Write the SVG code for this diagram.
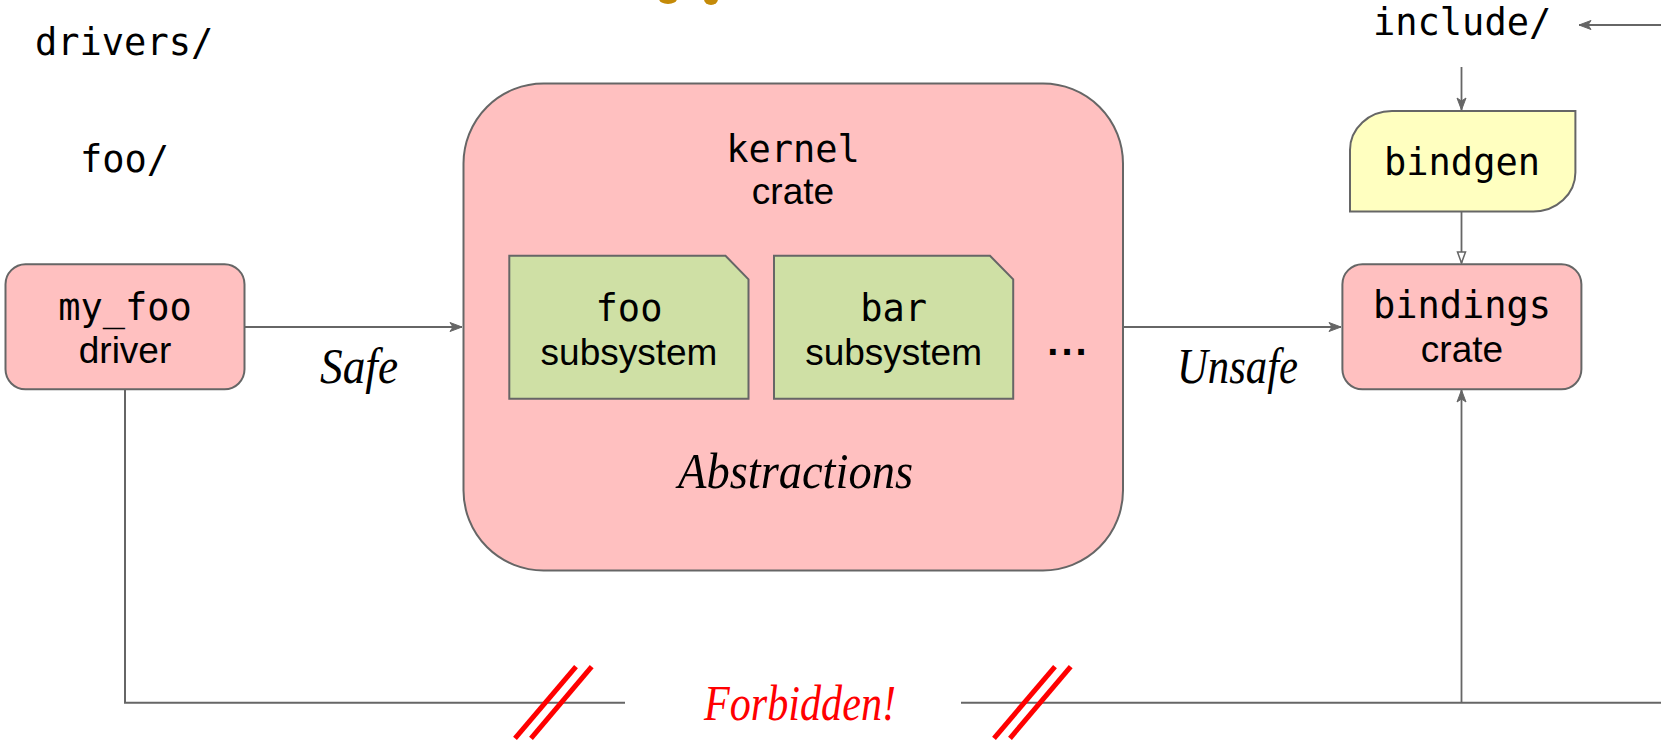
<svg xmlns="http://www.w3.org/2000/svg" width="1661" height="742" viewBox="0 0 1661 742">
<style>
.mono{font-family:"DejaVu Sans Mono","Liberation Mono",monospace;font-size:37px;fill:#000}
.sans{font-family:"Liberation Sans",Arial,sans-serif;font-size:37px;fill:#000}
.hand{font-family:"Liberation Serif",serif;font-style:italic;font-size:50px;fill:#000}
.pink{fill:#ffc0c0;stroke:#666;stroke-width:2}
.green{fill:#cfe0a5;stroke:#666;stroke-width:2}
.yellow{fill:#ffffc0;stroke:#666;stroke-width:2}
.conn{fill:none;stroke:#666;stroke-width:1.8}
.slash{stroke:#ff0000;stroke-width:5;fill:none}
</style>
<defs>
<marker id="arr" viewBox="-13 -6 14 12" refX="0" refY="0" markerWidth="14" markerHeight="12" orient="auto" markerUnits="userSpaceOnUse">
<path d="M-12,-4.5 L0,0 L-12,4.5 L-9,0 Z" fill="#666" stroke="#666" stroke-width="1"/>
</marker>
<marker id="tri" viewBox="-13 -6 14 12" refX="0" refY="0" markerWidth="14" markerHeight="12" orient="auto" markerUnits="userSpaceOnUse">
<path d="M-11,-4 L0,0 L-11,4 Z" fill="#fff" stroke="#666" stroke-width="1.5"/>
</marker>
</defs>
<rect width="1661" height="742" fill="#fff"/>

<g id="tux-feet">
<ellipse cx="668" cy="-1" rx="9" ry="5" fill="#c48a08"/>
<ellipse cx="711" cy="-1" rx="7" ry="6" fill="#c48a08"/>
</g>

<g id="connectors">
<line class="conn" x1="245" y1="327" x2="462" y2="327" marker-end="url(#arr)"/>
<line class="conn" x1="1123" y1="327" x2="1341" y2="327" marker-end="url(#arr)"/>
<line class="conn" x1="1461.5" y1="67" x2="1461.5" y2="110" marker-end="url(#arr)"/>
<line class="conn" x1="1461.5" y1="212" x2="1461.5" y2="263" marker-end="url(#tri)"/>
<line class="conn" x1="1661" y1="25" x2="1579" y2="25" marker-end="url(#arr)"/>
<polyline class="conn" style="stroke-width:2" points="125,389 125,702.7 625,702.7"/>
<line class="conn" style="stroke-width:2" x1="961" y1="702.7" x2="1661" y2="702.7"/>
<line class="conn" x1="1461.5" y1="702.7" x2="1461.5" y2="390" marker-end="url(#arr)"/>
<line class="slash" x1="576" y1="666.7" x2="515" y2="738.3"/>
<line class="slash" x1="591.7" y1="666.7" x2="531" y2="738.3"/>
<line class="slash" x1="1055" y1="666.7" x2="994" y2="738.3"/>
<line class="slash" x1="1070.7" y1="666.7" x2="1010" y2="738.3"/>
<text class="hand" x="320" y="383" textLength="78" lengthAdjust="spacingAndGlyphs">Safe</text>
<text class="hand" x="1177" y="383" textLength="121" lengthAdjust="spacingAndGlyphs">Unsafe</text>
<text class="hand" x="704" y="720" textLength="192" lengthAdjust="spacingAndGlyphs" style="fill:#ff0000">Forbidden!</text>
</g>

<g id="drivers-label">
<text class="mono" x="35" y="55">drivers/</text>
</g>
<g id="foo-label">
<text class="mono" x="80" y="171.5">foo/</text>
</g>
<g id="include-label">
<text class="mono" x="1373" y="35">include/</text>
</g>

<g id="my_foo">
<rect class="pink" x="5.5" y="264.3" width="239" height="125" rx="20" ry="20"/>
<text class="mono" x="125" y="320" text-anchor="middle">my_foo</text>
<text class="sans" x="125" y="362.5" text-anchor="middle">driver</text>
</g>

<g id="kernel">
<rect class="pink" x="463.5" y="83.5" width="659.5" height="487" rx="80" ry="80"/>
<text class="mono" x="793" y="162" text-anchor="middle">kernel</text>
<text class="sans" x="793" y="204" text-anchor="middle">crate</text>
<text class="hand" x="678" y="488" textLength="235" lengthAdjust="spacingAndGlyphs">Abstractions</text>
<text class="sans" x="1068.5" y="355" text-anchor="middle" style="font-weight:bold;font-size:40px;letter-spacing:3px">...</text>
</g>

<g id="foo-subsystem">
<path class="green" d="M509.3,255.7 H725.5 L748.5,279.3 V398.7 H509.3 Z"/>
<text class="mono" x="629" y="321" text-anchor="middle">foo</text>
<text class="sans" x="629" y="365" text-anchor="middle">subsystem</text>
</g>

<g id="bar-subsystem">
<path class="green" d="M774,255.7 H990 L1013.2,279.3 V398.7 H774 Z"/>
<text class="mono" x="893.6" y="321" text-anchor="middle">bar</text>
<text class="sans" x="893.6" y="365" text-anchor="middle">subsystem</text>
</g>

<g id="bindgen">
<path class="yellow" d="M1350,211.5 V150 A42,39 0 0 1 1392,111 H1575.4 V172.5 A42,39 0 0 1 1533.4,211.5 Z"/>
<text class="mono" x="1462" y="175" text-anchor="middle">bindgen</text>
</g>

<g id="bindings">
<rect class="pink" x="1342.4" y="264.3" width="239" height="125" rx="20" ry="20"/>
<text class="mono" x="1462" y="318" text-anchor="middle">bindings</text>
<text class="sans" x="1462" y="362" text-anchor="middle">crate</text>
</g>
</svg>
